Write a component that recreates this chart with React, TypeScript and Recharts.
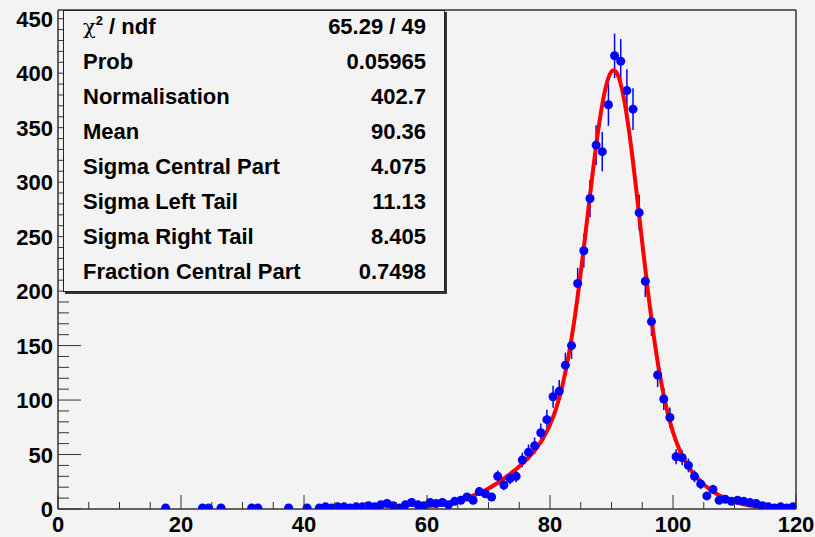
import React from 'react'
import { ComposedChart, Scatter, Line, XAxis, YAxis, ErrorBar, ReferenceLine } from 'recharts'

// bin centres (1 GeV bins) and contents, empty bins left out like ROOT does
const binX = [
  17.5, 23.5, 24.5, 26.5, 31.5, 32.5, 37.5, 40.5,
  42.5, 43.5, 44.5, 45.5, 46.5, 47.5, 48.5, 49.5, 50.5, 51.5, 52.5, 53.5, 54.5, 55.5, 56.5, 57.5, 58.5, 59.5,
  60.5, 61.5, 62.5, 63.5, 64.5, 65.5, 66.5, 67.5, 68.5, 69.5, 70.5, 71.5, 72.5, 73.5, 74.5, 75.5, 76.5, 77.5, 78.5, 79.5,
  80.5, 81.5, 82.5, 83.5, 84.5, 85.5, 86.5, 87.5, 88.5, 89.5, 90.5, 91.5, 92.5, 93.5, 94.5, 95.5, 96.5, 97.5, 98.5, 99.5,
  100.5, 101.5, 102.5, 103.5, 104.5, 105.5, 106.5, 107.5, 108.5, 109.5, 110.5, 111.5, 112.5, 113.5, 114.5, 115.5, 116.5, 117.5, 118.5, 119.5,
]
const binCount = [
  1, 1, 1, 1, 1, 1, 1, 1,
  1, 2, 1, 2, 2, 1, 2, 2, 3, 2, 4, 5, 3, 1, 4, 6, 4, 3,
  6, 5, 6, 4, 7, 8, 11, 8, 16, 14, 11, 30, 22, 28, 30, 45, 52, 58, 70, 82,
  103, 108, 132, 150, 207, 237, 285, 334, 328, 371, 416, 411, 384, 367, 272, 209, 172, 123, 101, 84,
  48, 47, 40, 30, 23, 12, 18, 8, 9, 7, 8, 7, 6, 5, 3, 2, 1, 2, 1, 2,
]

// fitted curve
const fitX = [
  60, 61, 62, 63, 64, 65, 66, 67, 68, 69, 70, 71, 72, 73, 74, 75, 76, 77, 78, 79,
  80, 81, 82, 83, 84, 85, 86, 87, 88, 89, 90, 90.36, 91, 92, 93, 94, 95, 96, 97, 98, 99,
  100, 101, 102, 103, 104, 105, 106, 107, 108, 109, 110, 111, 112, 113, 114, 115,
]
const fitY = [
  2.4, 3.1, 3.9, 4.9, 6.1, 7.5, 9.2, 11.1, 13.4, 16.0, 18.9, 22.2, 25.9, 29.9, 34.3, 39.1, 44.4, 50.4, 57.4, 66.1,
  77.3, 92.3, 112.8, 140.1, 174.9, 216.9, 263.7, 311.2, 353.8, 385.6, 401.5, 402.7, 398.7, 377.3, 340.7, 294.4, 244.4, 196.3, 153.8, 118.8, 91.3,
  70.6, 55.2, 43.7, 35.0, 28.1, 22.6, 18.0, 14.3, 11.2, 8.6, 6.6, 4.9, 3.7, 2.7, 1.9, 1.4,
]

const xTicks = [0, 5, 10, 15, 20, 25, 30, 35, 40, 45, 50, 55, 60, 65, 70, 75, 80, 85, 90, 95, 100, 105, 110, 115, 120]
const yTicks = [
  0, 10, 20, 30, 40, 50, 60, 70, 80, 90, 100, 110, 120, 130, 140, 150, 160, 170, 180, 190, 200, 210, 220, 230,
  240, 250, 260, 270, 280, 290, 300, 310, 320, 330, 340, 350, 360, 370, 380, 390, 400, 410, 420, 430, 440, 450,
]

const statRows = [
  ['chi2', '65.29 / 49'],
  ['Prob', '0.05965'],
  ['Normalisation', '402.7'],
  ['Mean', '90.36'],
  ['Sigma Central Part', '4.075'],
  ['Sigma Left Tail', '11.13'],
  ['Sigma Right Tail', '8.405'],
  ['Fraction Central Part', '0.7498'],
]

const FONT = '"Liberation Sans", Arial, Helvetica, sans-serif'
const BG = '#f3f3f3'
const AXIS = '#333'

const points = binX.map((x, i) => ({ x, c: binCount[i], ey: Math.sqrt(binCount[i]), ex: 0.5 }))
const fit = fitX.map((x, i) => ({ x, f: fitY[i] }))

function XTick(props: any) {
  const { x, y, payload } = props
  const major = payload.value % 20 === 0
  return (
    <g>
      <line x1={x} x2={x} y1={y} y2={y - (major ? 14 : 7)} stroke={AXIS} strokeWidth={1} />
      {major && (
        <text x={x} y={y + 23} textAnchor="middle" fontFamily={FONT} fontWeight={700} fontSize={22} fill="#000">
          {payload.value}
        </text>
      )}
    </g>
  )
}

function YTick(props: any) {
  const { x, y, payload } = props
  const major = payload.value % 50 === 0
  return (
    <g>
      <line x1={x} x2={x + (major ? 23 : 11)} y1={y} y2={y} stroke={AXIS} strokeWidth={1} />
      {major && (
        <text x={x - 5} y={y + 8} textAnchor="end" fontFamily={FONT} fontWeight={700} fontSize={22} fill="#000">
          {payload.value}
        </text>
      )}
    </g>
  )
}

function Marker(props: any) {
  return <circle cx={props.cx} cy={props.cy} r={4.5} fill="#0000ff" />
}

function StatsBox() {
  return (
    <div
      style={{
        position: 'absolute',
        left: 63,
        top: 10,
        width: 382,
        height: 282,
        boxSizing: 'border-box',
        border: '1px solid #222',
        boxShadow: '2px 2px 0 #333',
        background: BG,
        fontFamily: FONT,
        fontWeight: 700,
        fontSize: 22,
        color: '#000',
        paddingLeft: 19,
        paddingRight: 18,
      }}
    >
      <div style={{ marginTop: -2 }}>
        {statRows.map(([label, value]) => (
          <div key={label} style={{ display: 'flex', justifyContent: 'space-between', height: 35, lineHeight: '35px' }}>
            <span>
              {label === 'chi2' ? (
                <>
                  <span style={{ fontFamily: '"DejaVu Serif", serif', fontWeight: 400, fontSize: 21 }}>χ</span>
                  <sup style={{ fontSize: 13, lineHeight: 0, verticalAlign: 9 }}>2</sup>
                  {' / ndf'}
                </>
              ) : (
                label
              )}
            </span>
            <span>{value}</span>
          </div>
        ))}
      </div>
    </div>
  )
}

export default function App() {
  return (
    <div style={{ position: 'absolute', left: 0, top: 0, width: 815, height: 537, background: BG, overflow: 'hidden' }}>
      <ComposedChart width={815} height={537} margin={{ top: 10, right: 19, bottom: 0, left: 0 }}>
        <XAxis
          dataKey="x"
          type="number"
          domain={[0, 120]}
          ticks={xTicks}
          interval={0}
          height={28}
          tickSize={0}
          tickMargin={0}
          tickLine={false}
          axisLine={{ stroke: AXIS, strokeWidth: 1.5 }}
          tick={<XTick />}
          allowDataOverflow
        />
        <YAxis
          type="number"
          domain={[0, 458]}
          ticks={yTicks}
          interval={0}
          width={58}
          tickSize={0}
          tickMargin={0}
          tickLine={false}
          axisLine={{ stroke: AXIS, strokeWidth: 1.5 }}
          tick={<YTick />}
          allowDataOverflow
        />
        <ReferenceLine y={458} stroke={AXIS} strokeWidth={1.5} />
        <ReferenceLine x={120} stroke={AXIS} strokeWidth={1.5} />
        <Scatter data={points} dataKey="c" shape={<Marker />} isAnimationActive={false}>
          <ErrorBar dataKey="ey" direction="y" width={0} stroke="#0000ff" strokeWidth={1.5} />
          <ErrorBar dataKey="ex" direction="x" width={0} stroke="#0000ff" strokeWidth={1.5} />
        </Scatter>
        <Line
          data={fit}
          dataKey="f"
          type="monotone"
          stroke="#ff0000"
          strokeWidth={4}
          dot={false}
          activeDot={false}
          isAnimationActive={false}
        />
      </ComposedChart>
      <StatsBox />
    </div>
  )
}
